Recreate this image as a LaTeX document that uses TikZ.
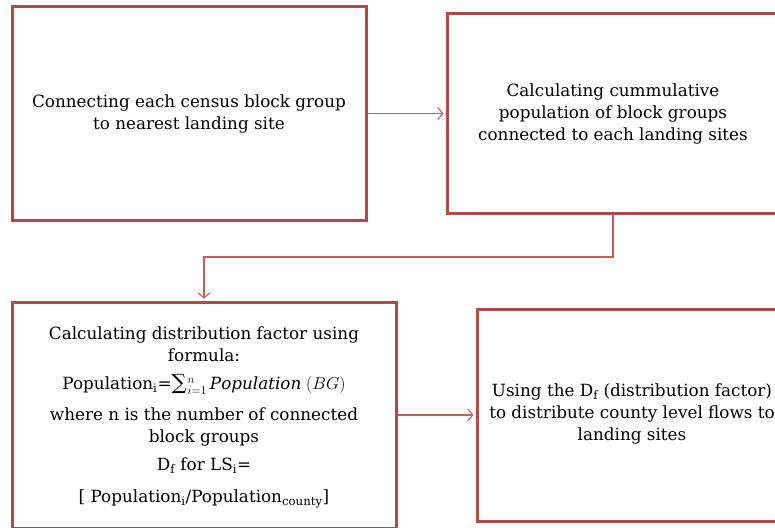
\documentclass[tikz,border=0pt]{standalone}
\usepackage{amsmath}
\usepackage{fontspec}
\setmainfont{DejaVu Serif}
\usetikzlibrary{arrows.meta}
\definecolor{boxred}{RGB}{178,75,72}
\definecolor{linered}{RGB}{200,92,88}

\begin{document}
\begin{tikzpicture}[x=1pt,y=-1pt,
  stagebox/.style={draw=boxred, line width=3pt, fill=white, inner sep=0pt},
  stagetext/.style={align=center, inner sep=0pt, font=\fontsize{16.8}{22}\selectfont},
  flow/.style={draw=linered, line width=1.1pt, shorten >=2pt,
    -{Straight Barb[length=5pt,width=12pt]}}]
\useasboundingbox (0,0) rectangle (775,527);
\clip (0,0) rectangle (775,527);

% the four stages of the procedure
\node[stagebox, minimum width=354pt, minimum height=213pt] (s1) at (189,113.5) {};
\node[stagebox, minimum width=332pt, minimum height=199pt] (s2) at (613,113.5) {};
\node[stagebox, minimum width=384pt, minimum height=226pt] (s3) at (204,415) {};
\node[stagebox, minimum width=312pt, minimum height=212pt] (s4) at (633,415) {};

\node[stagetext] (t1) at (s1.center) {Connecting each census block group\\to nearest landing site};
\node[stagetext] (t2) at (s2.center) {Calculating cummulative\\population of block groups\\connected to each landing sites};
\node[stagetext] (t3) at (204,417.5) {Calculating distribution factor using\\formula:\\[6pt]
  Population\textsubscript{i}={\fontsize{21}{22}\selectfont ∑}\kern1pt$_{i=1}^{n}\,\mathit{Population}\;(BG)$\\[9pt]
  where n is the number of connected\\block groups\\[6pt]
  D\textsubscript{f} for LS\textsubscript{i}=\\[10pt]
  [ Population\textsubscript{i}/Population\textsubscript{county}]};
\node[stagetext] (t4) at (632,414) {Using the D\textsubscript{f} (distribution factor)\\to distribute county level flows to\\landing sites};

% connectors between the stages
\coordinate (bend) at (613,257);
\draw[flow] (s1.east) -- (s2.west);
\draw[flow] (s2.south) -- (bend) -| (s3.north);
\draw[flow] (s3.east) -- (s4.west);
\end{tikzpicture}
\end{document}
